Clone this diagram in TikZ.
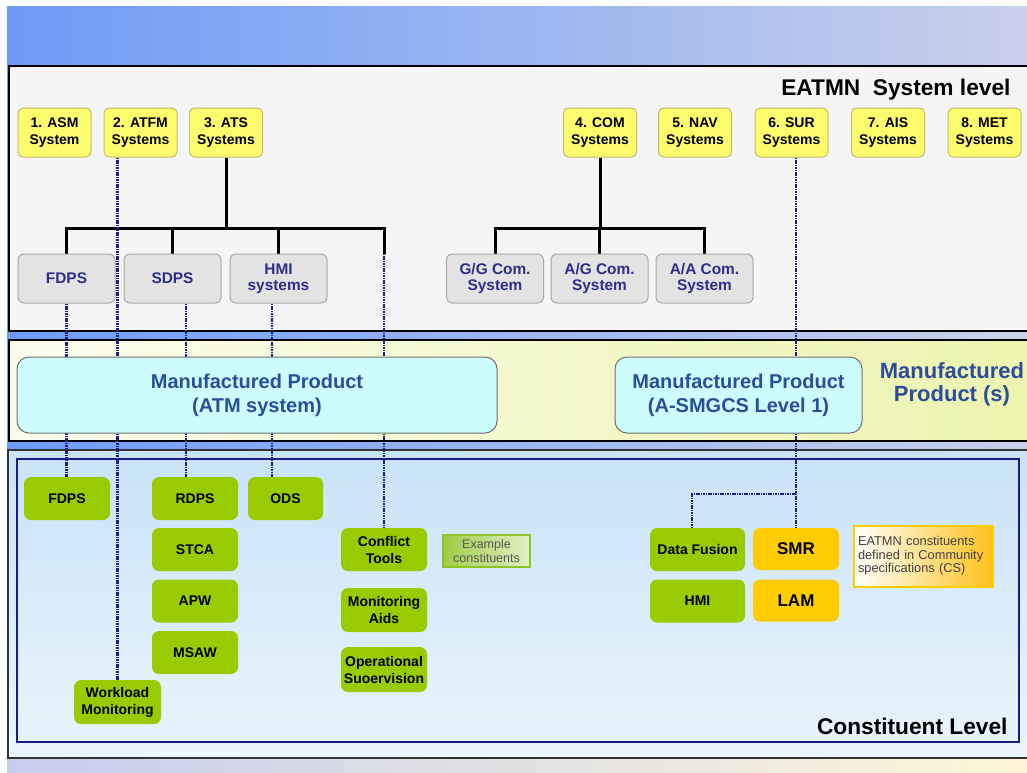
\documentclass[tikz,border=0pt]{standalone}
\usepackage{fontspec}
\setmainfont{Liberation Sans}
\usetikzlibrary{calc}

\definecolor{sysfill}{HTML}{FCFC6C}
\definecolor{sysedge}{HTML}{C4BC6C}
\definecolor{subfill}{HTML}{E3E3E3}
\definecolor{subedge}{HTML}{A8A8A8}
\definecolor{subtext}{HTML}{2D2D8A}
\definecolor{prodfill}{HTML}{CCFCFC}
\definecolor{prodedge}{HTML}{707070}
\definecolor{prodtext}{HTML}{2E4C9C}
\definecolor{partgreen}{HTML}{99CC00}
\definecolor{csorange}{HTML}{FFCC00}
\definecolor{linkblue}{HTML}{1E1E86}
\definecolor{navy}{HTML}{1A1A8A}
\definecolor{panelgray}{HTML}{F5F5F5}
\definecolor{bandleft}{HTML}{6D9BF7}
\definecolor{bandright}{HTML}{C9D0EA}
\definecolor{footleft}{HTML}{C6CDEE}
\definecolor{footright}{HTML}{FFF6D8}
\definecolor{mpleft}{HTML}{FCFCEE}
\definecolor{mpright}{HTML}{ECF4AE}
\definecolor{cltop}{HTML}{C8E3F8}
\definecolor{clbottom}{HTML}{EAF5FC}
\definecolor{noteorange}{HTML}{FFC21A}
\definecolor{notetext}{HTML}{404040}
\definecolor{exgreen}{HTML}{8CC424}

\pgfdeclarelayer{bg}
\pgfdeclarelayer{lines}
\pgfsetlayers{bg,lines,main}

\begin{document}
\begin{tikzpicture}[x=1pt,y=-1pt,
  sysbox/.style={draw=sysedge, fill=sysfill, line width=1pt, rounded corners=5pt,
    minimum width=73pt, minimum height=49pt, inner sep=1pt, align=center,
    font=\fontsize{14}{17}\selectfont\bfseries},
  subbox/.style={draw=subedge, fill=subfill, line width=1pt, rounded corners=6pt,
    minimum width=97pt, minimum height=49pt, inner sep=1pt, align=center,
    text=subtext, font=\fontsize{15.4}{16}\selectfont\bfseries},
  product/.style={draw=prodedge, fill=prodfill, line width=1pt, rounded corners=12pt,
    minimum height=76pt, inner sep=2pt, align=center, text=prodtext,
    font=\fontsize{20}{24}\selectfont\bfseries},
  part/.style={fill=partgreen, rounded corners=7pt, minimum width=86pt,
    minimum height=43pt, inner sep=1pt, align=center,
    font=\fontsize{14}{17}\selectfont\bfseries},
  cspart/.style={part, fill=csorange, font=\fontsize{17}{19}\selectfont\bfseries},
  tree/.style={line width=3pt},
  dotlink/.style={draw=linkblue, line width=2.2pt, dash pattern=on 1.6pt off 0.8pt},
  levelname/.style={anchor=base east, font=\fontsize{22.7}{25}\selectfont\bfseries}
]
\useasboundingbox (0,0) rectangle (1027,772);

% ---------- system level ----------
\node[sysbox] (asm)  at (54.5,132.5) {1. ASM\\System};
\node[sysbox] (atfm) at (140.5,132.5) {2. ATFM\\Systems};
\node[sysbox] (ats)  at (226,132.5) {3. ATS\\Systems};
\node[sysbox] (com)  at (600,132.5) {4. COM\\Systems};
\node[sysbox] (nav)  at (695,132.5) {5. NAV\\Systems};
\node[sysbox] (sur)  at (791.5,132.5) {6. SUR\\Systems};
\node[sysbox] (ais)  at (888,132.5) {7. AIS\\Systems};
\node[sysbox] (met)  at (984.5,132.5) {8. MET\\Systems};

\node[subbox] (gfdps) at (66.5,278.5) {FDPS};
\node[subbox] (gsdps) at (172.5,278.5) {SDPS};
\node[subbox] (ghmi)  at (278.5,278.5) {HMI\\systems};
\node[subbox] (ggcom) at (495,278.5) {G/G Com.\\System};
\node[subbox] (agcom) at (599.5,278.5) {A/G Com.\\System};
\node[subbox] (aacom) at (704.5,278.5) {A/A Com.\\System};

\node[levelname] (syslevel) at (1014,95) {EATMN\ \ System level};

% ---------- manufactured products ----------
\node[product, minimum width=480pt] (atm) at (257,395) {Manufactured Product\\(ATM system)};
\node[product, minimum width=247pt] (asmgcs) at (738.5,395) {Manufactured Product\\(A-SMGCS Level 1)};
\node[align=center, text=prodtext, font=\fontsize{22}{23}\selectfont\bfseries] (mplabel)
  at (952,384) {Manufactured\\Product (s)};

% ---------- constituents ----------
\node[part] (cfdps) at (67,498.5) {FDPS};
\node[part] (rdps)  at (195,498.5) {RDPS};
\node[part, minimum width=75pt] (ods) at (285.5,498.5) {ODS};
\node[part] (stca)  at (195,549.5) {STCA};
\node[part] (apw)   at (195,601) {APW};
\node[part] (msaw)  at (195,652.5) {MSAW};
\node[part, minimum width=87pt, minimum height=44pt] (wl) at (117.5,702) {Workload\\Monitoring};
\node[part] (conf)  at (384,549.5) {Conflict\\Tools};
\node[part, minimum height=44pt] (mon) at (384,610) {Monitoring\\Aids};
\node[part, minimum height=45pt] (opsup) at (384,669.5) {Operational\\Suoervision};
\node[part, minimum width=95pt] (df)  at (697.5,549.5) {Data Fusion};
\node[part, minimum width=95pt] (chmi) at (697.5,601) {HMI};
\node[cspart, minimum height=42pt] (smr) at (796,549) {SMR};
\node[cspart, minimum height=42pt] (lam) at (796,600.5) {LAM};

\node[draw=exgreen, line width=1.5pt, left color=exgreen!85!white, middle color=white,
  right color=exgreen!25!white, minimum width=87pt, minimum height=32pt, inner sep=1pt,
  align=center, text=black!65, font=\fontsize{12.5}{14}\selectfont] (ex)
  at (486.5,551) {Example\\constituents};

\node[draw=csorange, line width=2pt, left color=white, middle color=white,
  right color=noteorange, minimum width=139pt, minimum height=61pt, inner xsep=4pt,
  text width=131pt, align=left, text=notetext, font=\fontsize{12.8}{13.5}\selectfont] (cs)
  at (923.5,556) {EATMN constituents\\defined in Community\\specifications (CS)};

\node[levelname] (conlevel) at (1011,734) {Constituent Level};

% ---------- connectors ----------
\begin{pgfonlayer}{lines}
  \coordinate (atsbus) at ($(ats.south)+(0,71)$);
  \coordinate (ctop) at (conf.north |- gfdps.north);
  \draw[tree] (ats.south) -- (atsbus);
  \draw[tree] (gfdps.north) |- (atsbus) -| (ctop);
  \draw[tree] (gsdps.north) -- (gsdps.north |- atsbus);
  \draw[tree] (ghmi.north) -- (ghmi.north |- atsbus);

  \coordinate (combus) at ($(com.south)+(0,71)$);
  \draw[tree] (com.south) -- (combus);
  \draw[tree] (ggcom.north) |- (combus) -| (aacom.north);
  \draw[tree] (agcom.north) -- (agcom.north |- combus);

  \draw[dotlink] (atfm.south -| wl.north) -- (wl.north);
  \draw[dotlink] (gfdps.south) -- (gfdps.south |- cfdps.north);
  \draw[dotlink] ([xshift=13.5pt]gsdps.south) -- ([xshift=13.5pt]gsdps.south |- rdps.north);
  \draw[dotlink] ([xshift=-6.5pt]ghmi.south) -- ([xshift=-6.5pt]ghmi.south |- ods.north);
  \draw[dotlink] (ctop) -- (conf.north);
  \draw[dotlink] (sur.south -| smr.north) -- (smr.north);
  \coordinate (fork) at ($(smr.north)+(0,-34)$);
  \draw[dotlink] (fork) -| ([xshift=-5.5pt]df.north);
\end{pgfonlayer}

% ---------- background and level panels ----------
\begin{pgfonlayer}{bg}
  \fill[white] (0,0) rectangle (1027,772);
  \shade[left color=bandleft, right color=bandright] (7,6) rectangle (1030,758);
  \shade[left color=footleft, right color=footright] (7,758) rectangle (1030,772);
  % system level
  \draw[line width=1.5pt, fill=panelgray] (9,66) rectangle (1030,331);
  % manufactured product level
  \draw[line width=1.5pt, left color=mpleft, right color=mpright] (9,340) rectangle (1030,441);
  % constituent level
  \draw[line width=1.5pt, draw=black!80, top color=cltop, bottom color=clbottom]
    (8,450) rectangle (1030,758);
  \draw[line width=2.5pt, navy] (17,459) rectangle (1019,742);
\end{pgfonlayer}
\end{tikzpicture}
\end{document}
